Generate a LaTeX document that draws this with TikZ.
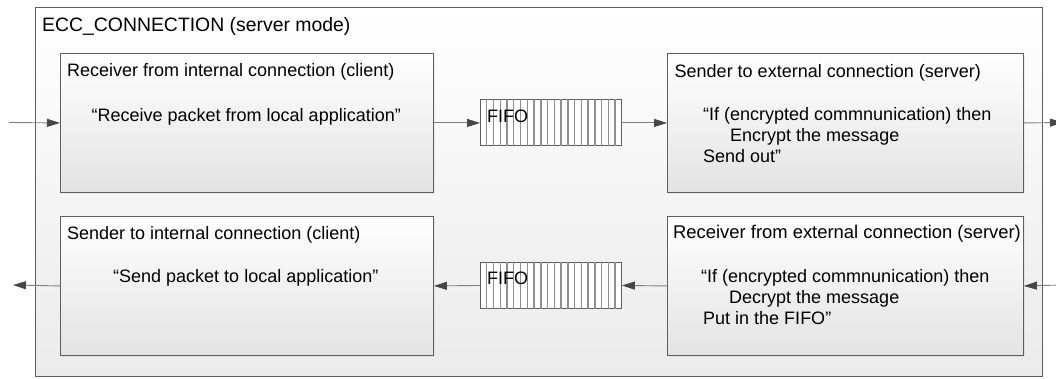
\documentclass[tikz,border=0pt]{standalone}
\usepackage{fontspec}
\setmainfont{Liberation Sans}
\usetikzlibrary{arrows.meta, positioning, calc, shadows}
\definecolor{eccline}{HTML}{5E5E5E}
\definecolor{eccfill}{HTML}{E3E3E3}
\definecolor{eccframe}{HTML}{EBEBEB}
\definecolor{eccstripe}{HTML}{8E8E8E}

\begin{document}
\begin{tikzpicture}[
    x=1pt, y=-1pt,
    frame/.style={rectangle, draw=eccline, line width=1.1pt, top color=white, bottom color=eccframe,
                  anchor=north west, inner sep=0pt, minimum width=1007pt, minimum height=369pt},
    block/.style={rectangle, draw=eccline, line width=0.9pt, top color=white, bottom color=eccfill,
                  anchor=north west, inner sep=0pt, minimum width=#1, minimum height=139pt,
                  drop shadow={opacity=0.12, shadow xshift=2pt, shadow yshift=-2pt}},
    fifo/.style={rectangle, draw=eccline, line width=0.9pt, fill=white, anchor=north west,
                 inner sep=0pt, minimum width=141pt, minimum height=46pt},
    stripe/.style={eccstripe, line width=1.4pt},
    txt/.style={inner sep=0pt, anchor=base west, font=\fontsize{18}{21}\selectfont},
    body/.style={inner sep=0pt, anchor=north west, align=left, font=\fontsize{18}{21}\selectfont},
    flow/.style={-{Triangle[length=13pt, width=8pt, color=black!72]}, draw=black!50, line width=0.9pt}
  ]
    \useasboundingbox (0,0) rectangle (1056,379);

    \node[frame] (conn) at (35,7) {};
    \node[txt, font=\fontsize{19.4}{23}\selectfont] (title) at (42,32) {ECC\_CONNECTION (server mode)};

    \node[block=373pt] (rin) at (60,53) {};
    \node[block=356pt] (sex) at (667,53) {};
    \node[block=373pt] (sin) at (60,216) {};
    \node[block=356pt] (rex) at (667,216) {};
    \node[fifo] (f1) at (480,99.5) {};
    \node[fifo] (f2) at (480,262) {};

    \foreach \f in {f1, f2}
      \foreach \k in {1,...,20}
        \draw[stripe] ($(\f.south west)!\k/21!(\f.south east)$) -- ($(\f.north west)!\k/21!(\f.north east)$);
    \node[txt] (f1txt) at ([shift={(7,23.5)}]f1.north west) {FIFO};
    \node[txt] (f2txt) at ([shift={(7,22)}]f2.north west) {FIFO};

    \node[txt] (rinhead) at ([shift={(7,24)}]rin.north west) {Receiver from internal connection (client)};
    \node[body] (rinbody) at ([shift={(31.5,55)}]rin.north west) {“Receive packet from local application”};
    \node[txt] (sexhead) at ([shift={(7.5,24.5)}]sex.north west) {Sender to external connection (server)};
    \node[body] (sexbody) at ([shift={(36,54)}]sex.north west)
      {“If (encrypted commnunication) then\\\hspace*{27pt}Encrypt the message\\Send out”};
    \node[txt] (sinhead) at ([shift={(7,24)}]sin.north west) {Sender to internal connection (client)};
    \node[body] (sinbody) at ([shift={(53,53)}]sin.north west) {“Send packet to local application”};
    \node[txt, font=\fontsize{18.4}{21}\selectfont] (rexhead) at ([shift={(6,23)}]rex.north west)
      {Receiver from external connection (server)};
    \node[body] (rexbody) at ([shift={(34,53)}]rex.north west)
      {“If (encrypted commnunication) then\\\hspace*{28pt}Decrypt the message\\\hspace*{2pt}Put in the FIFO”};

    \coordinate (topin) at (9,122.5);
    \coordinate (topout) at (1063,122.5);
    \coordinate (botin) at (1063,285);
    \coordinate (botout) at (13,285);

    \draw[flow] (topin) -- (rin.west);
    \draw[flow] (rin.east) -- (f1.west);
    \draw[flow] (f1.east) -- (sex.west);
    \draw[flow] (sex.east) -- (topout);
    \draw[flow] (botin) -- (rex.east);
    \draw[flow] (rex.west) -- (f2.east);
    \draw[flow] (f2.west) -- (sin.east);
    \draw[flow] (sin.west) -- (botout);
  \end{tikzpicture}
\end{document}
